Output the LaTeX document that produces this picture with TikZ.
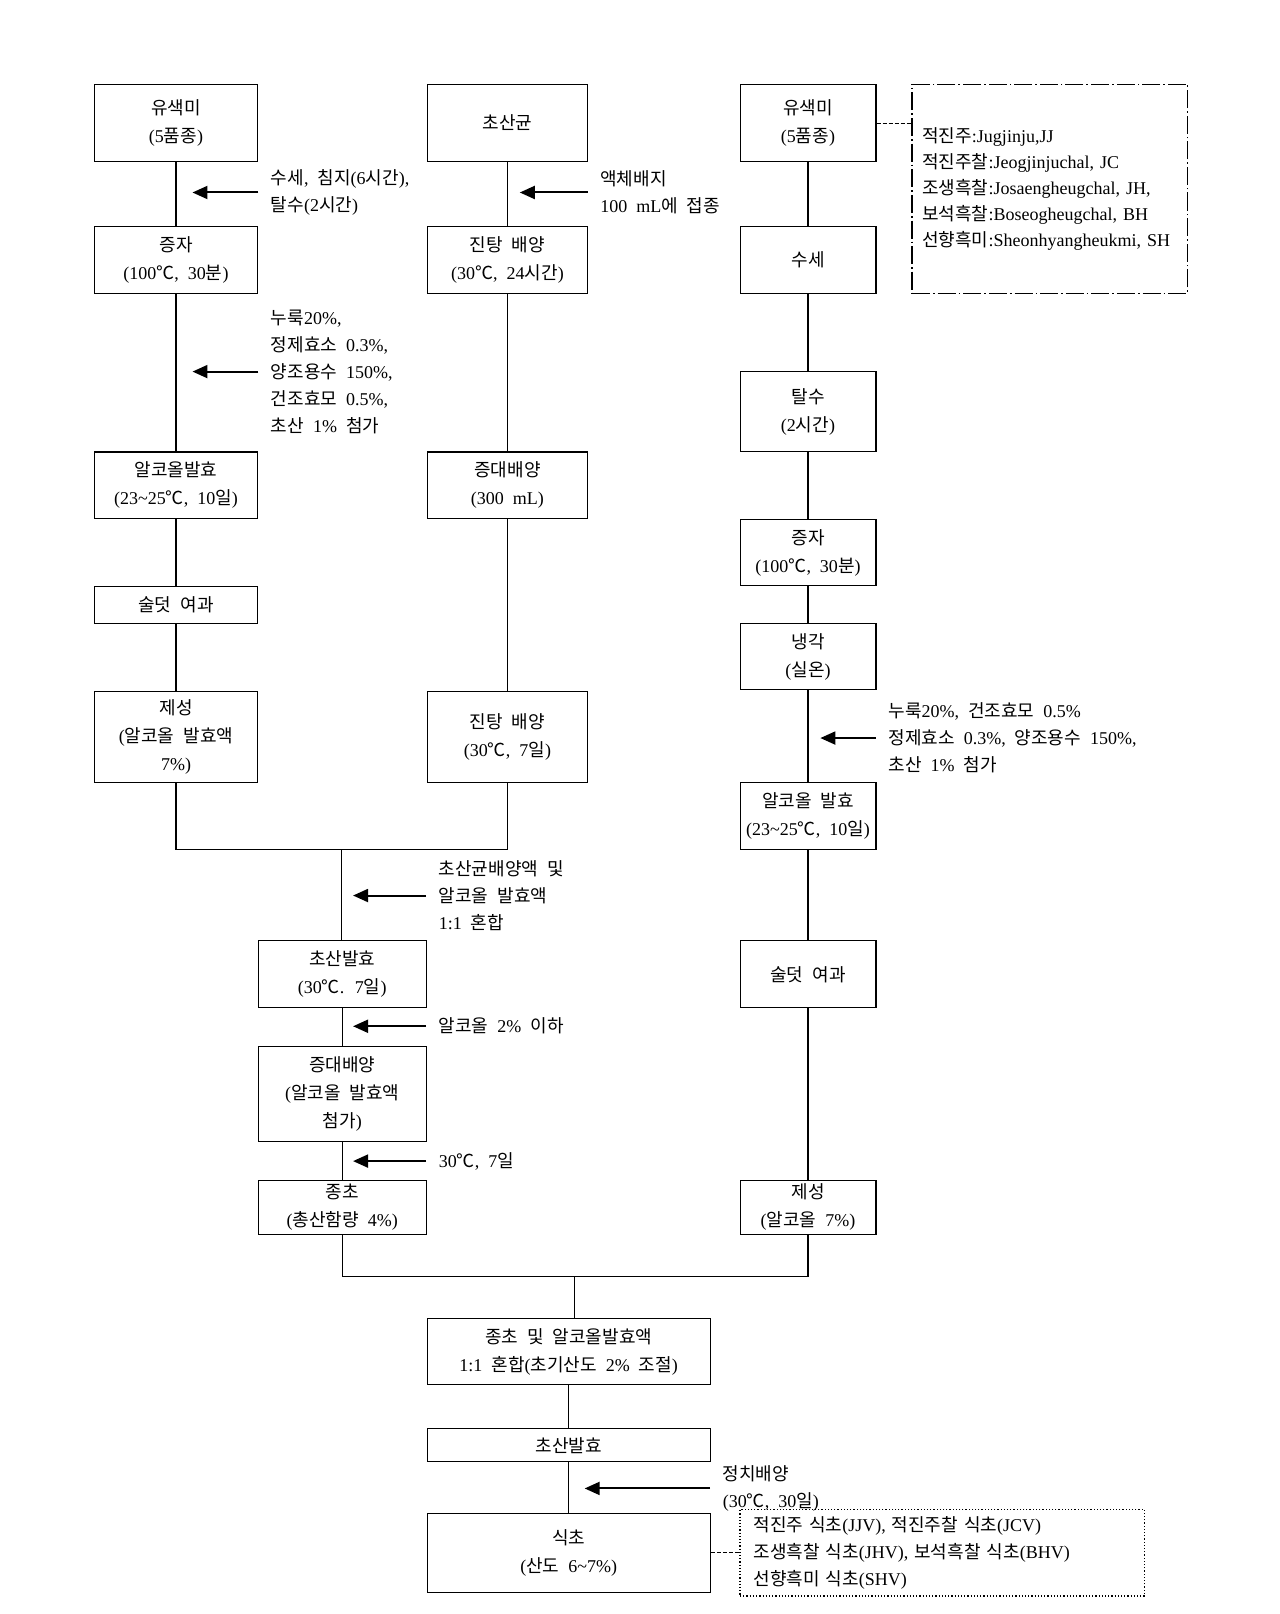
\documentclass[tikz,border=0pt]{standalone}
\usepackage{fontspec}
\setmainfont{Liberation Serif}
\newfontfamily\krfont{Noto Sans CJK KR}
\usetikzlibrary{arrows.meta}

% Hangul (and the degree sign) in the CJK font, everything else in the serif
\XeTeXinterchartokenstate=1
\newXeTeXintercharclass\hangulclass
\newcount\hcode
\hcode="AC00
\loop
  \XeTeXcharclass\hcode=\hangulclass
  \ifnum\hcode<"D7A3 \advance\hcode by 1
\repeat
\XeTeXcharclass"2103=\hangulclass
\XeTeXinterchartoks 0 \hangulclass={\krfont}
\XeTeXinterchartoks 4095 \hangulclass={\krfont}
\XeTeXinterchartoks \hangulclass 0={\rmfamily}
\XeTeXinterchartoks \hangulclass 4095={\rmfamily}

\newcommand\wordgap{\spaceskip=0.5em\relax}

\tikzset{
  box/.style={draw, rectangle, align=center, inner sep=0pt, line width=0.6pt, font=\fontsize{9}{14}\selectfont\wordgap},
  note/.style={anchor=west, align=left, inner xsep=6pt, inner ysep=0pt, font=\fontsize{9}{13.5}\selectfont\wordgap},
  arr/.style={-{Triangle[length=7.5pt,width=6.5pt]}, line width=1pt},
  dotline/.style={dash pattern=on 2pt off 1pt, line width=0.5pt},
  wA/.style={minimum width=81.3pt},
  wB/.style={minimum width=80.3pt},
  wC/.style={minimum width=67.9pt},
  wD/.style={minimum width=83.9pt},
  wE/.style={minimum width=141.5pt}
}

\begin{document}
\begin{tikzpicture}[x=0.5145pt, y=-0.5145pt, line width=0.6pt]
\useasboundingbox (0,0) rectangle (1243,1568);

% left column: rice wine
\node (a1) [box, wA, minimum height=38.6pt] at (171,119.5) {유색미\\(5품종)};
\node (a2) [box, wA, minimum height=33.4pt] at (171,252.5) {증자\\(100℃, 30분)};
\node (a3) [box, wA, minimum height=33.4pt] at (171,471.5) {알코올발효\\(23\~{}25℃, 10일)};
\node (a4) [box, wA, minimum height=18.5pt] at (171,588) {술덧 여과};
\node (a5) [box, wA, minimum height=45.3pt] at (171,716) {제성\\(알코올 발효액\\7\%)};

% middle column: acetic acid bacteria
\node (b1) [box, wB, minimum height=38.6pt] at (493,119.5) {초산균};
\node (b2) [box, wB, minimum height=33.4pt] at (493,252.5) {진탕 배양\\(30℃, 24시간)};
\node (b3) [box, wB, minimum height=33.4pt] at (493,471.5) {증대배양\\(300 mL)};
\node (b4) [box, wB, minimum height=45.3pt] at (493,716) {진탕 배양\\(30℃, 7일)};

% right column
\node (c1) [box, wC, minimum height=38.6pt] at (785,119.5) {유색미\\(5품종)};
\node (c2) [box, wC, minimum height=33.4pt] at (785,252.5) {수세};
\node (c3) [box, wC, minimum height=40.1pt] at (785,400) {탈수\\(2시간)};
\node (c4) [box, wC, minimum height=32.9pt] at (785,537) {증자\\(100℃, 30분)};
\node (c5) [box, wC, minimum height=32.9pt] at (785,638) {냉각\\(실온)};
\node (c6) [box, wC, minimum height=33.4pt] at (785,792.5) {알코올 발효\\(23\~{}25℃, 10일)};
\node (c7) [box, wC, minimum height=33.4pt] at (785,946.5) {술덧 여과};
\node (c8) [box, wC, minimum height=26.8pt] at (785,1173) {제성\\(알코올 7\%)};

% seed vinegar
\node (d1) [box, wD, minimum height=33.4pt] at (332.5,946.5) {초산발효\\(30℃. 7일)};
\node (d2) [box, wD, minimum height=47.3pt] at (332.5,1063) {증대배양\\(알코올 발효액\\첨가)};
\node (d3) [box, wD, minimum height=26.8pt] at (332.5,1173) {종초\\(총산함량 4\%)};

% bottom
\node (e1) [box, wE, minimum height=32.9pt] at (552.5,1313) {종초 및 알코올발효액\\1:1 혼합(초기산도 2\% 조절)};
\node (e2) [box, wE, minimum height=16.5pt] at (552.5,1404) {초산발효};
\node (e3) [box, wE, minimum height=39.6pt] at (552.5,1508.5) {식초\\(산도 6\~{}7\%)};

% legends
\node (leg1) [draw, dash pattern=on 9pt off 1.5pt on 0.8pt off 1.5pt, align=left, text width=127.6pt, inner xsep=5.1pt, minimum height=104.4pt, font=\fontsize{9}{12.9}\selectfont] at (1020,183.5)
  {적진주:Jugjinju,JJ\\적진주찰:Jeogjinjuchal, JC\\조생흑찰:Josaengheugchal, JH,\\보석흑찰:Boseogheugchal, BH\\선향흑미:Sheonhyangheukmi, SH};
\node (leg2) [draw, densely dotted, align=left, text width=188.8pt, inner xsep=6.7pt, minimum height=39.6pt, font=\fontsize{9}{13.6}\selectfont\wordgap] at (915.5,1508.5)
  {적진주 식초(JJV), 적진주찰 식초(JCV)\\조생흑찰 식초(JHV), 보석흑찰 식초(BHV)\\선향흑미 식초(SHV)};

% notes
\node (n1) [note] at (251,187) {수세, 침지(6시간),\\탈수(2시간)};
\node (n2) [note] at (251,361) {누룩20\%,\\정제효소 0.3\%,\\양조용수 150\%,\\건조효모 0.5\%,\\초산 1\% 첨가};
\node (n3) [note] at (571,187) {액체배지\\100 mL에 접종};
\node (n4) [note] at (414,870) {초산균배양액 및\\알코올 발효액\\1:1 혼합};
\node (n5) [note] at (414,997) {알코올 2\% 이하};
\node (n6) [note] at (414,1128) {30℃, 7일};
\node (n7) [note] at (851,717) {누룩20\%, 건조효모 0.5\%\\정제효소 0.3\%, 양조용수 150\%,\\초산 1\% 첨가};
\node (n8) [note] at (690,1446) {정치배양\\(30℃, 30일)};

\coordinate (t1) at (187,187);
\coordinate (t2) at (187,361);
\coordinate (t3) at (505,187);
\coordinate (t4) at (343,870);
\coordinate (t5) at (343,997);
\coordinate (t6) at (343,1128);
\coordinate (t7) at (797,717);
\coordinate (t8) at (568,1446);
\coordinate (j1) at (332,825);
\coordinate (j2) at (558,1240);

% Lines
\draw (a1) -- (a2);
\draw (a2) -- (a3);
\draw (a3) -- (a4);
\draw (a4) -- (a5);
\draw (b1) -- (b2);
\draw (b2) -- (b3);
\draw (b3) -- (b4);
\draw (c1) -- (c2);
\draw (c2) -- (c3);
\draw (c3) -- (c4);
\draw (c4) -- (c5);
\draw (c5) -- (c6);
\draw (c6) -- (c7);
\draw (c7) -- (c8);
\draw (a5.south) -- (a5.south |- j1) -- (b4.south |- j1) -- (b4.south);
\draw (j1) -- (j1 |- d1.north);
\draw (d1) -- (d2);
\draw (d2) -- (d3);
\draw (d3.south) -- (d3.south |- j2) -- (c8.south |- j2) -- (c8.south);
\draw (j2) -- (j2 |- e1.north);
\draw (e1) -- (e2);
\draw (e2) -- (e3);
\draw[dotline] (c1.east) -- (c1.east -| leg1.west);
\draw[dotline] (e3.east) -- (e3.east -| leg2.west);

% Arrows
\draw[arr] (n1.west) -- (t1);
\draw[arr] (n2.west) -- (t2);
\draw[arr] (n3.west) -- (t3);
\draw[arr] (n4.west) -- (t4);
\draw[arr] (n5.west) -- (t5);
\draw[arr] (n6.west) -- (t6);
\draw[arr] (n7.west) -- (t7);
\draw[arr] (n8.west) -- (t8);
\end{tikzpicture}
\end{document}
